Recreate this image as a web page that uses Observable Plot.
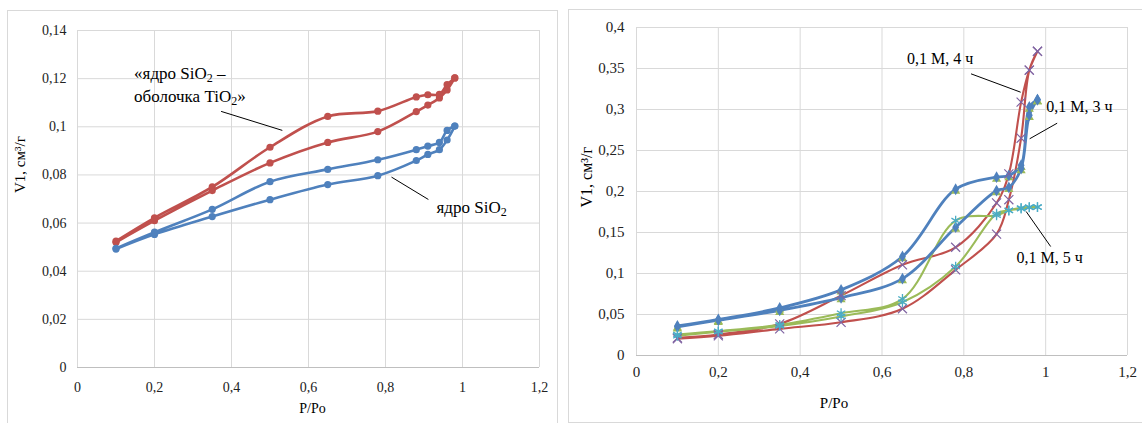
<!DOCTYPE html>
<html><head><meta charset="utf-8">
<script src="https://cdn.jsdelivr.net/npm/d3@7"></script>
<script src="https://cdn.jsdelivr.net/npm/@observablehq/plot@0.6"></script>
<style>
body{margin:0;background:#fff;}
#wrap{position:relative;width:1142px;height:423px;overflow:hidden;font-family:"Liberation Serif","Times New Roman",serif;background:#fff;}
.panel{position:absolute;border:1px solid #d9d9d9;box-sizing:border-box;}
#left{position:absolute;left:0;top:0;}
#right{position:absolute;left:570px;top:0;}
#wrap svg, #wrap svg text{font-family:"Liberation Serif","Times New Roman",serif !important;}
</style></head><body>
<div id="wrap">
<div class="panel" style="left:7px;top:10px;width:551px;height:440px"></div>
<div class="panel" style="left:568px;top:9px;width:600px;height:414px"></div>
<div id="left"></div><div id="right"></div>
</div>
<script>
// ---- data ----
const xTicks = [0, 0.2, 0.4, 0.6, 0.8, 1, 1.2];
const yTicksLeft = [0, 0.02, 0.04, 0.06, 0.08, 0.1, 0.12, 0.14];
const yTicksRight = [0, 0.05, 0.1, 0.15, 0.2, 0.25, 0.3, 0.35, 0.4];

const pPo = [0.1, 0.2, 0.35, 0.5, 0.65, 0.78, 0.88, 0.91, 0.94, 0.96, 0.98];

// left chart
const coreShellAds = [0.052, 0.061, 0.0735, 0.085, 0.0935, 0.098, 0.1063, 0.109, 0.112, 0.1153, 0.1203];
const coreShellDes = [0.0525, 0.0622, 0.075, 0.0915, 0.1043, 0.1065, 0.1124, 0.1133, 0.1135, 0.1175, 0.1203];
const coreAds = [0.0492, 0.0553, 0.0627, 0.0697, 0.076, 0.0797, 0.086, 0.0885, 0.0905, 0.0945, 0.1003];
const coreDes = [0.0495, 0.0562, 0.0657, 0.0772, 0.0823, 0.0863, 0.0905, 0.092, 0.0935, 0.0985, 0.1003];

// right chart
const m3Ads = [0.035, 0.043, 0.055, 0.0705, 0.0937, 0.1565, 0.201, 0.205, 0.228, 0.293, 0.312];
const m3Des = [0.036, 0.044, 0.058, 0.080, 0.1207, 0.2028, 0.2175, 0.2195, 0.232, 0.303, 0.312];
const m4Ads = [0.0205, 0.024, 0.0325, 0.0405, 0.057, 0.1045, 0.148, 0.19, 0.265, 0.348, 0.371];
const m4Des = [0.0215, 0.0256, 0.0385, 0.073, 0.1106, 0.132, 0.186, 0.2215, 0.309, 0.348, 0.371];
const m5Ads = [0.024, 0.029, 0.036, 0.0476, 0.065, 0.1085, 0.173, 0.177, 0.179, 0.1805, 0.181];
const m5Des = [0.0256, 0.0297, 0.0375, 0.0516, 0.069, 0.1646, 0.171, 0.1768, 0.18, 0.181, 0.181];

// annotations (data coordinates)
const notesLeft = [
  {x: 0.147, y: 0.1200, text: "«ядро SiO2 –"},
  {x: 0.147, y: 0.1102, text: "оболочка TiO2»"},
  {x: 0.9325, y: 0.0641, text: "ядро SiO2"}
];
const leadersLeft = [
  {x1: 0.373, y1: 0.1064, x2: 0.532, y2: 0.0985},
  {x1: 0.8156, y1: 0.0791, x2: 0.9114, y2: 0.0698}
];
const notesRight = [
  {x: 0.661, y: 0.3549, text: "0,1 М, 4 ч"},
  {x: 1.0012, y: 0.2967, text: "0,1 М, 3 ч"},
  {x: 0.929, y: 0.1126, text: "0,1 М, 5 ч"}
];
const leadersRight = [
  {x1: 0.8176, y1: 0.3435, x2: 0.9389, y2: 0.3211},
  {x1: 1.0281, y1: 0.2833, x2: 0.9609, y2: 0.2643},
  {x1: 0.9523, y1: 0.1756, x2: 1.0122, y2: 0.1329}
];

const xTitle = "P/Po";
const yTitle = "V1, см³/г";

// ---- helpers ----
const fmt = d => String(+d.toFixed(2)).replace(".", ",");
function loop(p, ads, des, s) {
  const r = [];
  p.forEach((x, i) => r.push({x, y: ads[i], s}));
  for (let i = p.length - 1; i >= 0; i--) r.push({x: p[i], y: des[i], s});
  return r;
}
const BLUE = "#4F81BD", RED = "#C0504D", GREEN = "#9BBB59", PURPLE = "#8064A2", CYAN = "#4BACC6";
const GRID = "#d9d9d9";
const FONT = "'Liberation Serif', 'Times New Roman', serif";

const ns = "http://www.w3.org/2000/svg";
function subscripts(svg, size) {
  svg.querySelectorAll("text").forEach(t => {
    const s = t.textContent;
    if (!/O2/.test(s) || t.querySelector("tspan")) return;
    const i = s.indexOf("O2") + 1;
    t.textContent = "";
    const a = document.createElementNS(ns, "tspan"); a.textContent = s.slice(0, i);
    const b = document.createElementNS(ns, "tspan"); b.textContent = "2";
    b.setAttribute("font-size", size); b.setAttribute("dy", "3");
    const c = document.createElementNS(ns, "tspan"); c.textContent = s.slice(i + 1);
    c.setAttribute("dy", "-3");
    t.append(a, b, c);
  });
}

// ---- left chart ----
const leftRows = [...loop(pPo, coreShellAds, coreShellDes, "cs"), ...loop(pPo, coreAds, coreDes, "c")];
const leftColor = {cs: RED, c: BLUE};

const left = Plot.plot({
  width: 560, height: 423,
  marginLeft: 77, marginRight: 21, marginTop: 30, marginBottom: 56,
  style: {background: "transparent", fontFamily: FONT, fontSize: "14px", color: "#222"},
  x: {domain: [0, 1.2]},
  y: {domain: [0, 0.14]},
  marks: [
    Plot.gridX(xTicks, {stroke: GRID, strokeOpacity: 1}),
    Plot.gridY(yTicksLeft, {stroke: GRID, strokeOpacity: 1}),
    Plot.ruleY([0], {stroke: "#bfbfbf"}),
    Plot.axisX({ticks: xTicks, tickSize: 0, tickPadding: 15, tickFormat: fmt, label: null, fontFamily: FONT}),
    Plot.axisY({ticks: yTicksLeft, tickSize: 0, tickPadding: 11, tickFormat: fmt, label: null, fontFamily: FONT}),
    Plot.line(leftRows, {x: "x", y: "y", z: "s", stroke: d => leftColor[d.s], strokeWidth: 2.6, curve: "catmull-rom"}),
    Plot.dot(leftRows, {x: "x", y: "y", fill: d => leftColor[d.s], r: 3.6, stroke: "none"}),
    Plot.link(leadersLeft, {x1: "x1", y1: "y1", x2: "x2", y2: "y2", stroke: "#000", strokeWidth: 1}),
    Plot.text(notesLeft, {x: "x", y: "y", text: "text", textAnchor: "start", lineAnchor: "bottom", fontSize: 17, fill: "#000", fontFamily: FONT}),
    Plot.text([xTitle], {frameAnchor: "bottom", dx: 4, dy: 41, lineAnchor: "middle", fontSize: 14, fill: "#000", fontFamily: FONT}),
    Plot.text([yTitle], {frameAnchor: "left", dx: -57, dy: -6, rotate: -90, lineAnchor: "middle", fontSize: 15, fill: "#000", fontFamily: FONT})
  ]
});
subscripts(left, "12");
document.getElementById("left").append(left);

// ---- right chart ----
const rightRows = [...loop(pPo, m4Ads, m4Des, "4"), ...loop(pPo, m5Ads, m5Des, "5"), ...loop(pPo, m3Ads, m3Des, "3")];
const rightColor = {"3": BLUE, "4": RED, "5": GREEN};
const rightWidth = {"3": 2.8, "4": 2.1, "5": 2.1};

const right = Plot.plot({
  width: 572, height: 423,
  marginLeft: 66, marginRight: 15, marginTop: 27, marginBottom: 68,
  style: {background: "transparent", fontFamily: FONT, fontSize: "15px", color: "#222"},
  x: {domain: [0, 1.2]},
  y: {domain: [0, 0.4]},
  marks: [
    Plot.gridX(xTicks, {stroke: GRID, strokeOpacity: 1}),
    Plot.gridY(yTicksRight, {stroke: GRID, strokeOpacity: 1}),
    Plot.ruleY([0], {stroke: "#bfbfbf"}),
    Plot.axisX({ticks: xTicks, tickSize: 0, tickPadding: 11, tickFormat: fmt, label: null, fontFamily: FONT}),
    Plot.axisY({ticks: yTicksRight, tickSize: 0, tickPadding: 12, tickFormat: fmt, label: null, fontFamily: FONT}),
    Plot.line(rightRows, {x: "x", y: "y", z: "s", stroke: d => rightColor[d.s], strokeWidth: d => rightWidth[d.s], curve: "catmull-rom"}),
    Plot.dot(rightRows.filter(d => d.s === "3"), {x: "x", y: "y", symbol: "triangle", fill: GREEN, r: 3.4, dy: 2, stroke: "none"}),
    Plot.dot(rightRows.filter(d => d.s === "3"), {x: "x", y: "y", symbol: "diamond", fill: BLUE, r: 3.6, stroke: "none"}),
    Plot.dot(rightRows.filter(d => d.s === "4"), {x: "x", y: "y", symbol: "times", stroke: PURPLE, r: 4.2, strokeWidth: 1.2}),
    Plot.dot(rightRows.filter(d => d.s === "5"), {x: "x", y: "y", symbol: "asterisk", stroke: CYAN, r: 4.6, strokeWidth: 1.3}),
    Plot.link(leadersRight, {x1: "x1", y1: "y1", x2: "x2", y2: "y2", stroke: "#000", strokeWidth: 1}),
    Plot.text(notesRight, {x: "x", y: "y", text: "text", textAnchor: "start", lineAnchor: "bottom", fontSize: 16, fill: "#000", fontFamily: FONT}),
    Plot.text([xTitle], {frameAnchor: "bottom", dx: -48, dy: 48, lineAnchor: "middle", fontSize: 15, fill: "#000", fontFamily: FONT}),
    Plot.text([yTitle], {frameAnchor: "left", dx: -50, dy: 16, rotate: -90, lineAnchor: "middle", fontSize: 16, fill: "#000", fontFamily: FONT})
  ]
});
document.getElementById("right").append(right);
</script>
</body></html>
